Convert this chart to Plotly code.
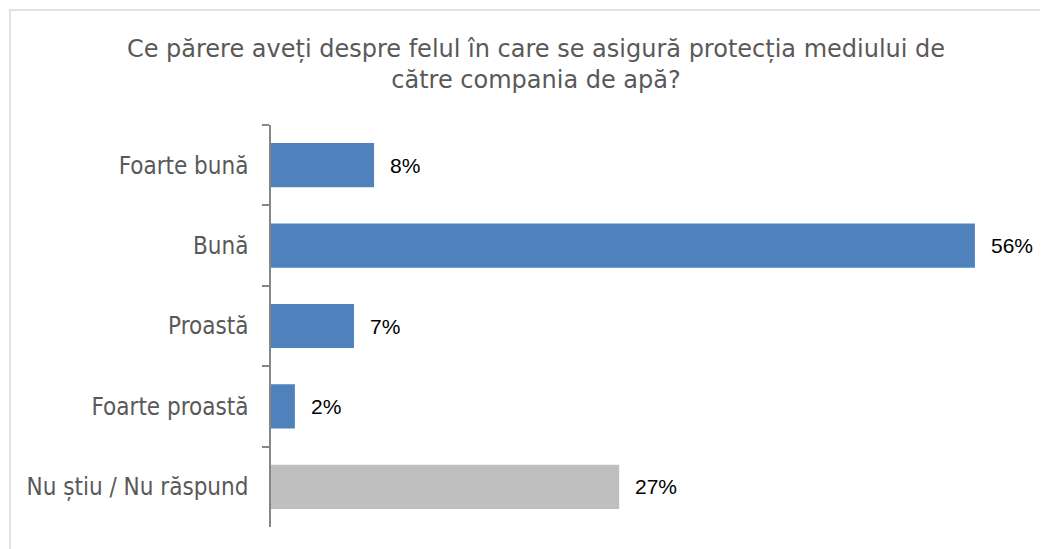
import plotly.graph_objects as go

categories = ["Foarte bună", "Bună", "Proastă", "Foarte proastă", "Nu știu / Nu răspund"]
values = [8.2, 56.0, 6.6, 1.9, 27.7]
labels = ["8%", "56%", "7%", "2%", "27%"]
colors = ["#4f81bd", "#4f81bd", "#4f81bd", "#4f81bd", "#bfbfbf"]
title_text = "Ce părere aveți despre felul în care se asigură protecția mediului de<br>către compania de apă?"

W, H = 1040, 541
L, T = 263, 117
pw, ph = 754, 402
R, B = W - L - pw, H - T - ph

fig = go.Figure()
fig.add_trace(go.Bar(
    y=categories, x=values, orientation="h",
    marker=dict(color=colors, line=dict(width=0)),
    width=0.55, hoverinfo="skip",
))

for c, v, lab in zip(categories, values, labels):
    fig.add_annotation(x=v, y=c, text=lab, showarrow=False, xanchor="left",
                       xshift=14, font=dict(family="Liberation Sans", size=21, color="#000000"))

fig.add_shape(type="rect", xref="paper", yref="paper",
              x0=(2 - L) / pw, x1=1.2, y0=-0.3, y1=(T + ph - 2) / ph,
              line=dict(color="#d9d9d9", width=1.5), fillcolor="rgba(0,0,0,0)", layer="below")

fig.update_layout(
    width=W, height=H,
    margin=dict(l=L, r=R, t=T, b=B),
    paper_bgcolor="white", plot_bgcolor="white",
    showlegend=False,
    title=dict(text=title_text, x=528 / W, xanchor="center", xref="container",
               y=1 - 49 / H, yanchor="middle", yref="container",
               font=dict(family="DejaVu Sans", size=24, color="#595959")),
    xaxis=dict(range=[0, pw / 12.57], visible=False, fixedrange=True),
    yaxis=dict(type="category", categoryorder="array", categoryarray=categories,
               autorange="reversed", showline=True, linecolor="#868686", linewidth=1.5,
               ticks="outside", ticklen=7, tickcolor="#868686", tickwidth=1.5,
               tickson="boundaries", showgrid=False, ticklabelstandoff=16,
               tickfont=dict(family="DejaVu Sans Condensed", size=24, color="#595959")),
)

fig.write_html("out.html")
